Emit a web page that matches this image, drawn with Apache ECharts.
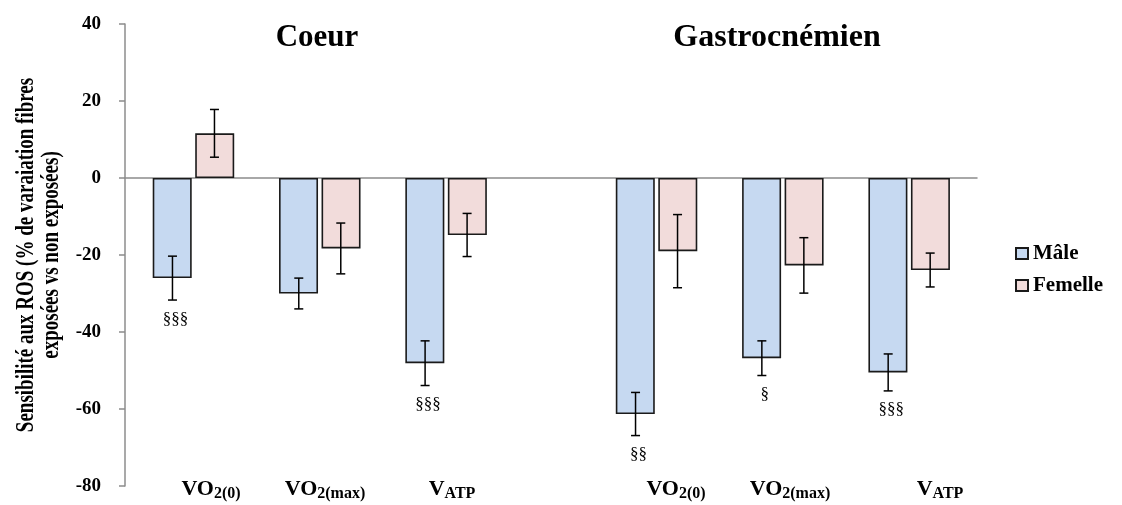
<!DOCTYPE html>
<html>
<head>
    <meta charset="utf-8"/>
    <title>Sensibilité aux ROS</title>
    <script src="https://cdn.jsdelivr.net/npm/echarts@6/dist/echarts.min.js"></script>
    <style>
        html, body { margin: 0; padding: 0; background: #fff; }
        #chart { width: 1122px; height: 505px; }
    </style>
</head>
<body>
<div id="chart"></div>
<script>
    // donnees
    var groups = ['Coeur', 'Gastrocnémien'];
    var params = ['{m|VO}{s|2(0)}', '{m|VO}{s|2(max)}', '{m|V}{s|ATP}'];
    var tissue = [0, 0, 0, 1, 1, 1];
    var param = [0, 1, 2, 0, 1, 2];
    var male = [-26.0, -30.0, -48.1, -61.3, -46.8, -50.5];
    var maleErr = [5.7, 4.0, 5.8, 5.6, 4.5, 4.8];
    var maleSig = ['§§§', '', '§§§', '§§', '§', '§§§'];
    var female = [11.6, -18.3, -14.8, -19.0, -22.7, -23.9];
    var femaleErr = [6.2, 6.6, 5.6, 9.5, 7.2, 4.4];
    var femaleSig = ['', '', '', '', '', ''];
    var yTicks = [-80, -60, -40, -20, 0, 20, 40];

    var serif = '"Liberation Serif", "Times New Roman", serif';

    // le second tissu est decale de 2/3 de categorie vers la gauche
    var tissueStart = [0, 3.666];
    function xOf(i) { return tissueStart[tissue[i]] + param[i]; }

    var chart = echarts.init(document.getElementById('chart'));

    function errSeries(name, vals, errs, sigs, shift) {
        return {
            name: name + ' err',
            type: 'custom',
            z: 5,
            encode: {x: 0, y: 1},
            data: vals.map(function (v, i) { return [xOf(i), v, errs[i]]; }),
            renderItem: function (p, api) {
                var x = api.value(0), v = api.value(1), e = api.value(2);
                var hi = api.coord([x, v + e]);
                var lo = api.coord([x, v - e]);
                var cx = hi[0] + shift;
                var cap = 4.5;
                var st = {stroke: '#000', lineWidth: 1.5};
                var kids = [
                    {type: 'line', shape: {x1: cx, y1: hi[1], x2: cx, y2: lo[1]}, style: st},
                    {type: 'line', shape: {x1: cx - cap, y1: hi[1], x2: cx + cap, y2: hi[1]}, style: st},
                    {type: 'line', shape: {x1: cx - cap, y1: lo[1], x2: cx + cap, y2: lo[1]}, style: st}
                ];
                var sig = sigs[p.dataIndex];
                if (sig) {
                    kids.push({
                        type: 'text',
                        style: {
                            text: sig, x: cx + 3, y: lo[1] + 19,
                            align: 'center', verticalAlign: 'middle',
                            font: '17px ' + serif, fill: '#000'
                        }
                    });
                }
                return {type: 'group', children: kids};
            }
        };
    }

    var labelCenters = [211, 325, 452, 676, 790, 940];
    var graphics = [];
    param.forEach(function (k, i) {
        graphics.push({
            type: 'text',
            x: labelCenters[i],
            y: 478,
            style: {
                text: params[k],
                align: 'center',
                verticalAlign: 'top',
                rich: {
                    m: {font: 'bold 22px ' + serif, fill: '#000', lineHeight: 24, verticalAlign: 'top'},
                    s: {font: 'bold 16px ' + serif, fill: '#000', lineHeight: 16, padding: [10, 0, 0, 0], verticalAlign: 'bottom'}
                }
            }
        });
    });
    graphics.push({
        type: 'text', x: 317, y: 38,
        style: {text: groups[0], font: 'bold 31px ' + serif, fill: '#000', align: 'center', verticalAlign: 'middle'}
    });
    graphics.push({
        type: 'text', x: 777, y: 38,
        style: {text: groups[1], font: 'bold 32px ' + serif, fill: '#000', align: 'center', verticalAlign: 'middle'}
    });
    // titre de l'axe vertical, police etiree comme dans la figure d'origine
    graphics.push({
        type: 'text', x: 39, y: 255, rotation: Math.PI / 2, scaleY: 1.3,
        style: {
            text: 'Sensibilité aux ROS (% de varaiation fibres\nexposées vs non exposées)',
            font: 'bold 19px ' + serif, fill: '#000', lineHeight: 19,
            align: 'center', verticalAlign: 'middle'
        }
    });

    var option = {
        animation: false,
        backgroundColor: '#fff',
        grid: {left: 125, right: 145, top: 24, bottom: 19, containLabel: false},
        legend: {
            orient: 'vertical',
            left: 1010,
            top: 238,
            icon: 'rect',
            itemWidth: 12,
            itemHeight: 11,
            itemGap: 11,
            data: ['Mâle', 'Femelle'],
            textStyle: {fontFamily: serif, fontWeight: 'bold', fontSize: 21, color: '#000', lineHeight: 21}
        },
        xAxis: {
            type: 'value',
            min: -0.542,
            max: 6.203,
            axisLine: {show: true, onZero: true, lineStyle: {color: '#8c8c8c', width: 1.5}},
            axisTick: {show: false},
            axisLabel: {show: false},
            splitLine: {show: false}
        },
        yAxis: {
            type: 'value',
            min: yTicks[0],
            max: yTicks[yTicks.length - 1],
            interval: 20,
            axisLine: {show: true, onZero: false, lineStyle: {color: '#8c8c8c', width: 1.5}},
            axisTick: {show: true, length: 6, lineStyle: {color: '#8c8c8c', width: 1.5}},
            axisLabel: {fontFamily: serif, fontWeight: 'bold', fontSize: 19, color: '#000', margin: 24},
            splitLine: {show: false}
        },
        series: [
            {
                name: 'Mâle',
                type: 'bar',
                barWidth: 39,
                barGap: '9%',
                itemStyle: {color: '#C6D9F1', borderColor: '#1a1a1a', borderWidth: 1.6},
                data: male.map(function (v, i) { return [xOf(i), v]; })
            },
            {
                name: 'Femelle',
                type: 'bar',
                barWidth: 39,
                barGap: '9%',
                itemStyle: {color: '#F2DCDB', borderColor: '#1a1a1a', borderWidth: 1.6},
                data: female.map(function (v, i) { return [xOf(i), v]; })
            },
            errSeries('Mâle', male, maleErr, maleSig, -21),
            errSeries('Femelle', female, femaleErr, femaleSig, 21)
        ],
        graphic: graphics
    };
    chart.setOption(option);
</script>
</body>
</html>
